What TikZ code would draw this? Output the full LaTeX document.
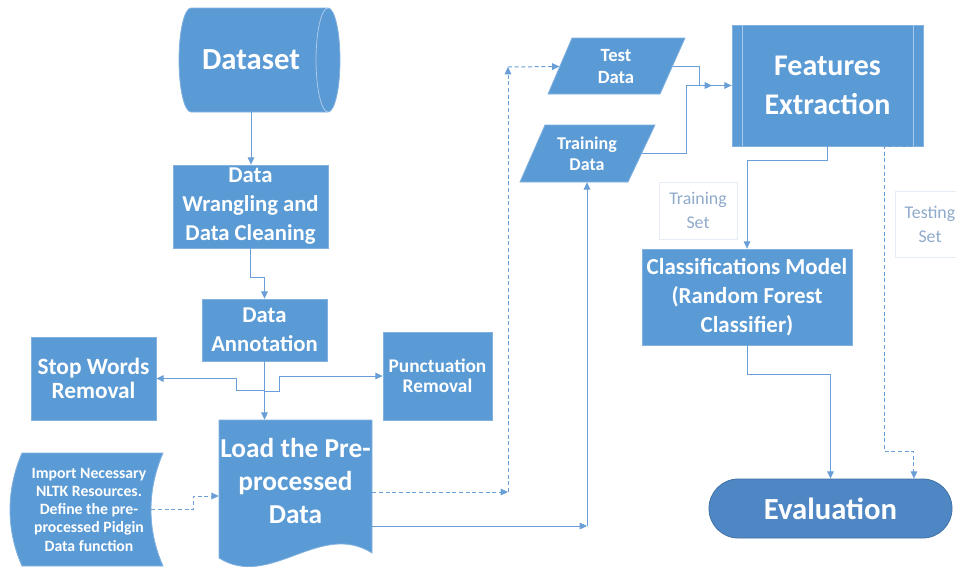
\documentclass[tikz,border=0pt]{standalone}
\usepackage{fontspec}
\setmainfont{Carlito}
\usetikzlibrary{arrows.meta}
\definecolor{boxfill}{HTML}{5B9BD5}
\definecolor{boxline}{HTML}{82B1DF}
\definecolor{innerline}{HTML}{A9C8EA}
\definecolor{connc}{HTML}{6A9ED6}
\definecolor{evalfill}{HTML}{4F87C4}
\definecolor{evalline}{HTML}{3F70A6}
\definecolor{lbltext}{HTML}{8FAACB}
\definecolor{lblline}{HTML}{E6ECF3}
\tikzset{
  box/.style={fill=boxfill, draw=boxline, line width=0.6pt, text=white, align=center, inner sep=0pt},
  shapefill/.style={fill=boxfill, draw=boxline, line width=0.6pt},
  ghost/.style={draw=none, fill=none, text=white, align=center, inner sep=0pt},
  lbl/.style={draw=lblline, line width=0.6pt, fill=white, text=lbltext, align=center, inner sep=0pt},
  conn/.style={draw=connc, line width=0.75pt},
  arr/.style={-{Triangle[length=5.5pt,width=5pt]}},
  dconn/.style={conn, dash pattern=on 3pt off 2pt},
}
\begin{document}
\begin{tikzpicture}[x=0.75pt,y=-0.75pt]
\useasboundingbox (0,0) rectangle (956,569);
\path[clip] (0,0) rectangle (956,569);
\fill[white] (0,0) rectangle (956,569);

% Dataset (direct access storage)
\path[shapefill] (191,8) -- (328,8)
  .. controls (334.6,8) and (340,31.3) .. (340,60)
  .. controls (340,88.7) and (334.6,112) .. (328,112)
  -- (191,112)
  .. controls (184.4,112) and (179,88.7) .. (179,60)
  .. controls (179,31.3) and (184.4,8) .. (191,8) -- cycle;
\draw[innerline, line width=0.6pt] (328,8) .. controls (321.4,8) and (316,31.3) .. (316,60)
  .. controls (316,88.7) and (321.4,112) .. (328,112);
\node[ghost, minimum width=105pt, minimum height=78pt, font=\bfseries\fontsize{23}{28}\selectfont] (dataset) at (251,60) {Dataset};

\node[box, minimum width=116.25pt, minimum height=62.25pt, font=\bfseries\fontsize{17}{21.75}\selectfont] (dw) at (250.5,206.5) {Data\\Wrangling and\\Data Cleaning};
\node[box, minimum width=93.75pt, minimum height=46.5pt, font=\bfseries\fontsize{17}{21.75}\selectfont] (da) at (264.5,330) {Data\\Annotation};
\node[box, minimum width=93.75pt, minimum height=62.25pt, font=\bfseries\fontsize{17.5}{17.5}\selectfont] (stop) at (93.5,378.5) {Stop Words\\Removal};
\node[box, minimum width=81.75pt, minimum height=66pt, font=\bfseries\fontsize{14.5}{15}\selectfont] (punct) at (437.5,376) {Punctuation\\Removal};

% Load (document shape)
\path[shapefill] (219,420) -- (372,420) -- (372,553)
  .. controls (320,520) and (270,590) .. (219,558) -- cycle;
\node[ghost, minimum width=114.75pt, minimum height=91.5pt, font=\bfseries\fontsize{20.5}{24.75}\selectfont] (load) at (295.5,481) {Load the Pre-\\processed\\Data};

% Import shape
\path[shapefill] (22,453) -- (163,453)
  .. controls (147,490) and (147,530) .. (163,566)
  -- (22,566)
  .. controls (6,530) and (6,490) .. (22,453) -- cycle;
\node[ghost, minimum width=93pt, minimum height=84.75pt, font=\bfseries\fontsize{11.8}{13.7}\selectfont] (import) at (89,509.5) {Import Necessary\\NLTK Resources.\\Define the pre-\\processed Pidgin\\Data function};

% Test / Training data (parallelograms)
\path[shapefill] (572,38) -- (685,38) -- (660,94) -- (548,94) -- cycle;
\node[ghost, minimum width=84.4pt, minimum height=42pt, font=\bfseries\fontsize{14}{16.5}\selectfont] (test) at (616,66.5) {Test\\Data};
\path[shapefill] (545,125) -- (655,125) -- (628,182) -- (520,182) -- cycle;
\node[ghost, minimum width=81.75pt, minimum height=42.75pt, font=\bfseries\fontsize{13.5}{16}\selectfont] (train) at (587,153.5) {Training\\Data};

% Features extraction
\node[box, minimum width=143.25pt, minimum height=90.75pt, font=\bfseries\fontsize{22.5}{29}\selectfont] (fe) at (827.5,85.5) {Features\\Extraction};
\draw[innerline, line width=0.6pt] ([xshift=8.25pt]fe.north west) -- ([xshift=8.25pt]fe.south west);
\draw[innerline, line width=0.6pt] ([xshift=-7.5pt]fe.north east) -- ([xshift=-7.5pt]fe.south east);

\node[box, minimum width=157.5pt, minimum height=72pt, font=\bfseries\fontsize{17.2}{22}\selectfont] (cls) at (747,297) {Classifications Model\\(Random Forest\\Classifier)};
\node[fill=evalfill, draw=evalline, line width=0.6pt, text=white, inner sep=0pt, rounded corners=22pt, minimum width=182.25pt, minimum height=44.25pt, font=\bfseries\fontsize{23}{28}\selectfont] (eval) at (830.5,508.5) {Evaluation};

\node[lbl, minimum width=58.5pt, minimum height=42.75pt, font=\fontsize{13.4}{18}\selectfont] (trset) at (698,210.5) {Training\\Set};
\node[lbl, minimum width=52.5pt, minimum height=49.5pt, font=\fontsize{13.4}{18}\selectfont] (teset) at (930,224) {Testing\\Set};

% connectors
\draw[conn, arr] (dataset.south) -- (dataset.south |- dw.north);
\draw[conn, arr] (dw.south) -- ++(0,29) -| (da.north);
\draw[conn, arr] (da.south) -- (da.south |- load.north);
\draw[conn, arr] (da.south) -- ++(0,29) -- ++(-28,0) |- (stop.east);
\draw[conn, arr] (da.south) -- ++(0,30) -- ++(15,0) |- (punct.west);
\draw[dconn, arr] (import.east) -- ++(42,0) |- ([yshift=-11.25pt]load.west);

\coordinate (dm) at (508,492);
\coordinate (dt) at (508,67);
\draw[dconn, arr] ([yshift=-8.25pt]load.east) -- (dm);
\draw[dconn, arr] (dm) -- (dt);
\draw[dconn, arr] (dt) -- (test.west);

\coordinate (sm) at (587,526);
\draw[conn, arr] ([yshift=-33.75pt]load.east) -- (sm);
\draw[conn, arr] (sm) -- (train.south);

\coordinate (tm) at (712,85.5);
\draw[conn, arr] (test.east) -- ++(26.5,0) |- (tm);
\draw[conn, arr] (train.east) -- ++(44.5,0) |- (fe.west);
\draw[conn, arr] (fe.south) -- ++(0,14.5) -| (cls.north);
\draw[conn, arr] (cls.south) -- ++(0,29) -| (eval.north);
\draw[dconn, arr] ([xshift=-8.25pt]fe.south east) -- ++(-28,0) -- ++(0,305) -| ([xshift=62.6pt]eval.north);
\end{tikzpicture}
\end{document}
